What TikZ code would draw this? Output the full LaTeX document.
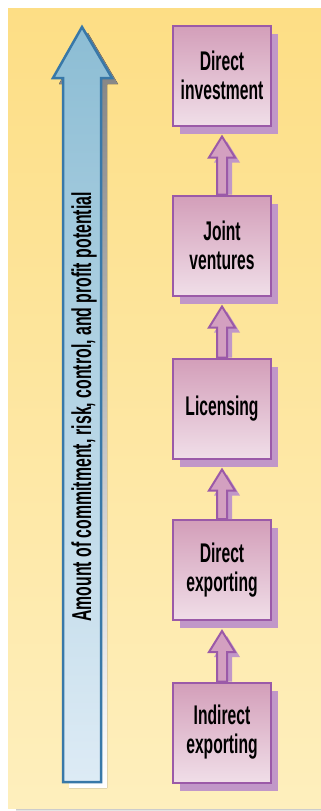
\documentclass[tikz,border=0pt]{standalone}
\usepackage{fontspec}
\setmainfont{Liberation Sans}[FakeStretch=0.58]
\usetikzlibrary{shadows,calc}
\definecolor{paper}{HTML}{FDDE85}
\definecolor{paperlo}{HTML}{FEEFBD}
\definecolor{plum}{HTML}{9B5AA8}
\definecolor{plumtop}{HTML}{D39EB9}
\definecolor{plumlo}{HTML}{F0DEE8}
\definecolor{shade}{HTML}{C197C8}
\definecolor{sky}{HTML}{3878A8}
\definecolor{skytop}{HTML}{8CBDD4}
\definecolor{skylo}{HTML}{DDEBF5}
\definecolor{arrfill}{HTML}{D3A0C0}
% hollow up-arrow from the top of #1 to just under #2
\newcommand{\stepup}[2]{%
  \foreach \dx/\dy/\sty in {5/5/arrshadow, 0/0/stepar}
    \path[\sty] let \p1=(#2.south), \p2=(#1.north) in
      ({\x1+\dx pt},{\y1-10pt-\dy pt}) -- ({\x1+13pt+\dx pt},{\y1-31pt-\dy pt})
      -- ({\x1+5pt+\dx pt},{\y1-31pt-\dy pt}) -- ({\x1+5pt+\dx pt},\y2)
      -- ({\x1-5pt+\dx pt},\y2) -- ({\x1-5pt+\dx pt},{\y1-31pt-\dy pt})
      -- ({\x1-13pt+\dx pt},{\y1-31pt-\dy pt}) -- cycle;}

\begin{document}
\begin{tikzpicture}[x=1pt, y=-1pt, font=\bfseries\fontsize{27}{29}\selectfont,
  stage/.style={draw=plum, line width=2pt, top color=plumtop, bottom color=plumlo,
                align=center, minimum width=98pt, minimum height=100pt, inner sep=0pt,
                drop shadow={shadow xshift=7pt, shadow yshift=-8pt, fill=shade, opacity=1}},
  stepar/.style={draw=plum, line width=2pt, fill=arrfill, line join=miter},
  arrshadow/.style={fill=shade},
  axis/.style={draw=sky, line width=2.5pt, top color=skytop, bottom color=skylo, line join=miter}]
\useasboundingbox (0,0) rectangle (321,811);
% -- paper
\fill[shade] (16,806) rectangle (321,811);
\fill[top color=paper, bottom color=paperlo] (8,8) rectangle (321,808);
% -- big arrow
\fill[shade] (88,33) -- (118,84) -- (107,84) -- (107,788) -- (69,788) -- (69,84) -- (59,84) -- cycle;
\path[axis] (82,27) -- (112,78) -- (101,78) -- (101,782) -- (63,782) -- (63,78) -- (53,78) -- cycle;
\node[rotate=90, font=\bfseries\fontsize{27.3}{29}\selectfont] (amount) at (84,407)
  {Amount of commitment, risk, control, and profit potential};
% -- stages
\node[stage] (invest) at (222,75.5) {Direct\\investment};
\node[stage] (joint) at (222,245.5) {Joint\\ventures};
\node[stage] (licensing) at (222,408.5) {Licensing};
\node[stage] (direct) at (222,570) {Direct\\exporting};
\node[stage] (indirect) at (222,732.5) {Indirect\\exporting};
\foreach \lo/\hi in {indirect/direct, direct/licensing, licensing/joint, joint/invest}
  \stepup{\lo}{\hi};
\end{tikzpicture}
\end{document}
